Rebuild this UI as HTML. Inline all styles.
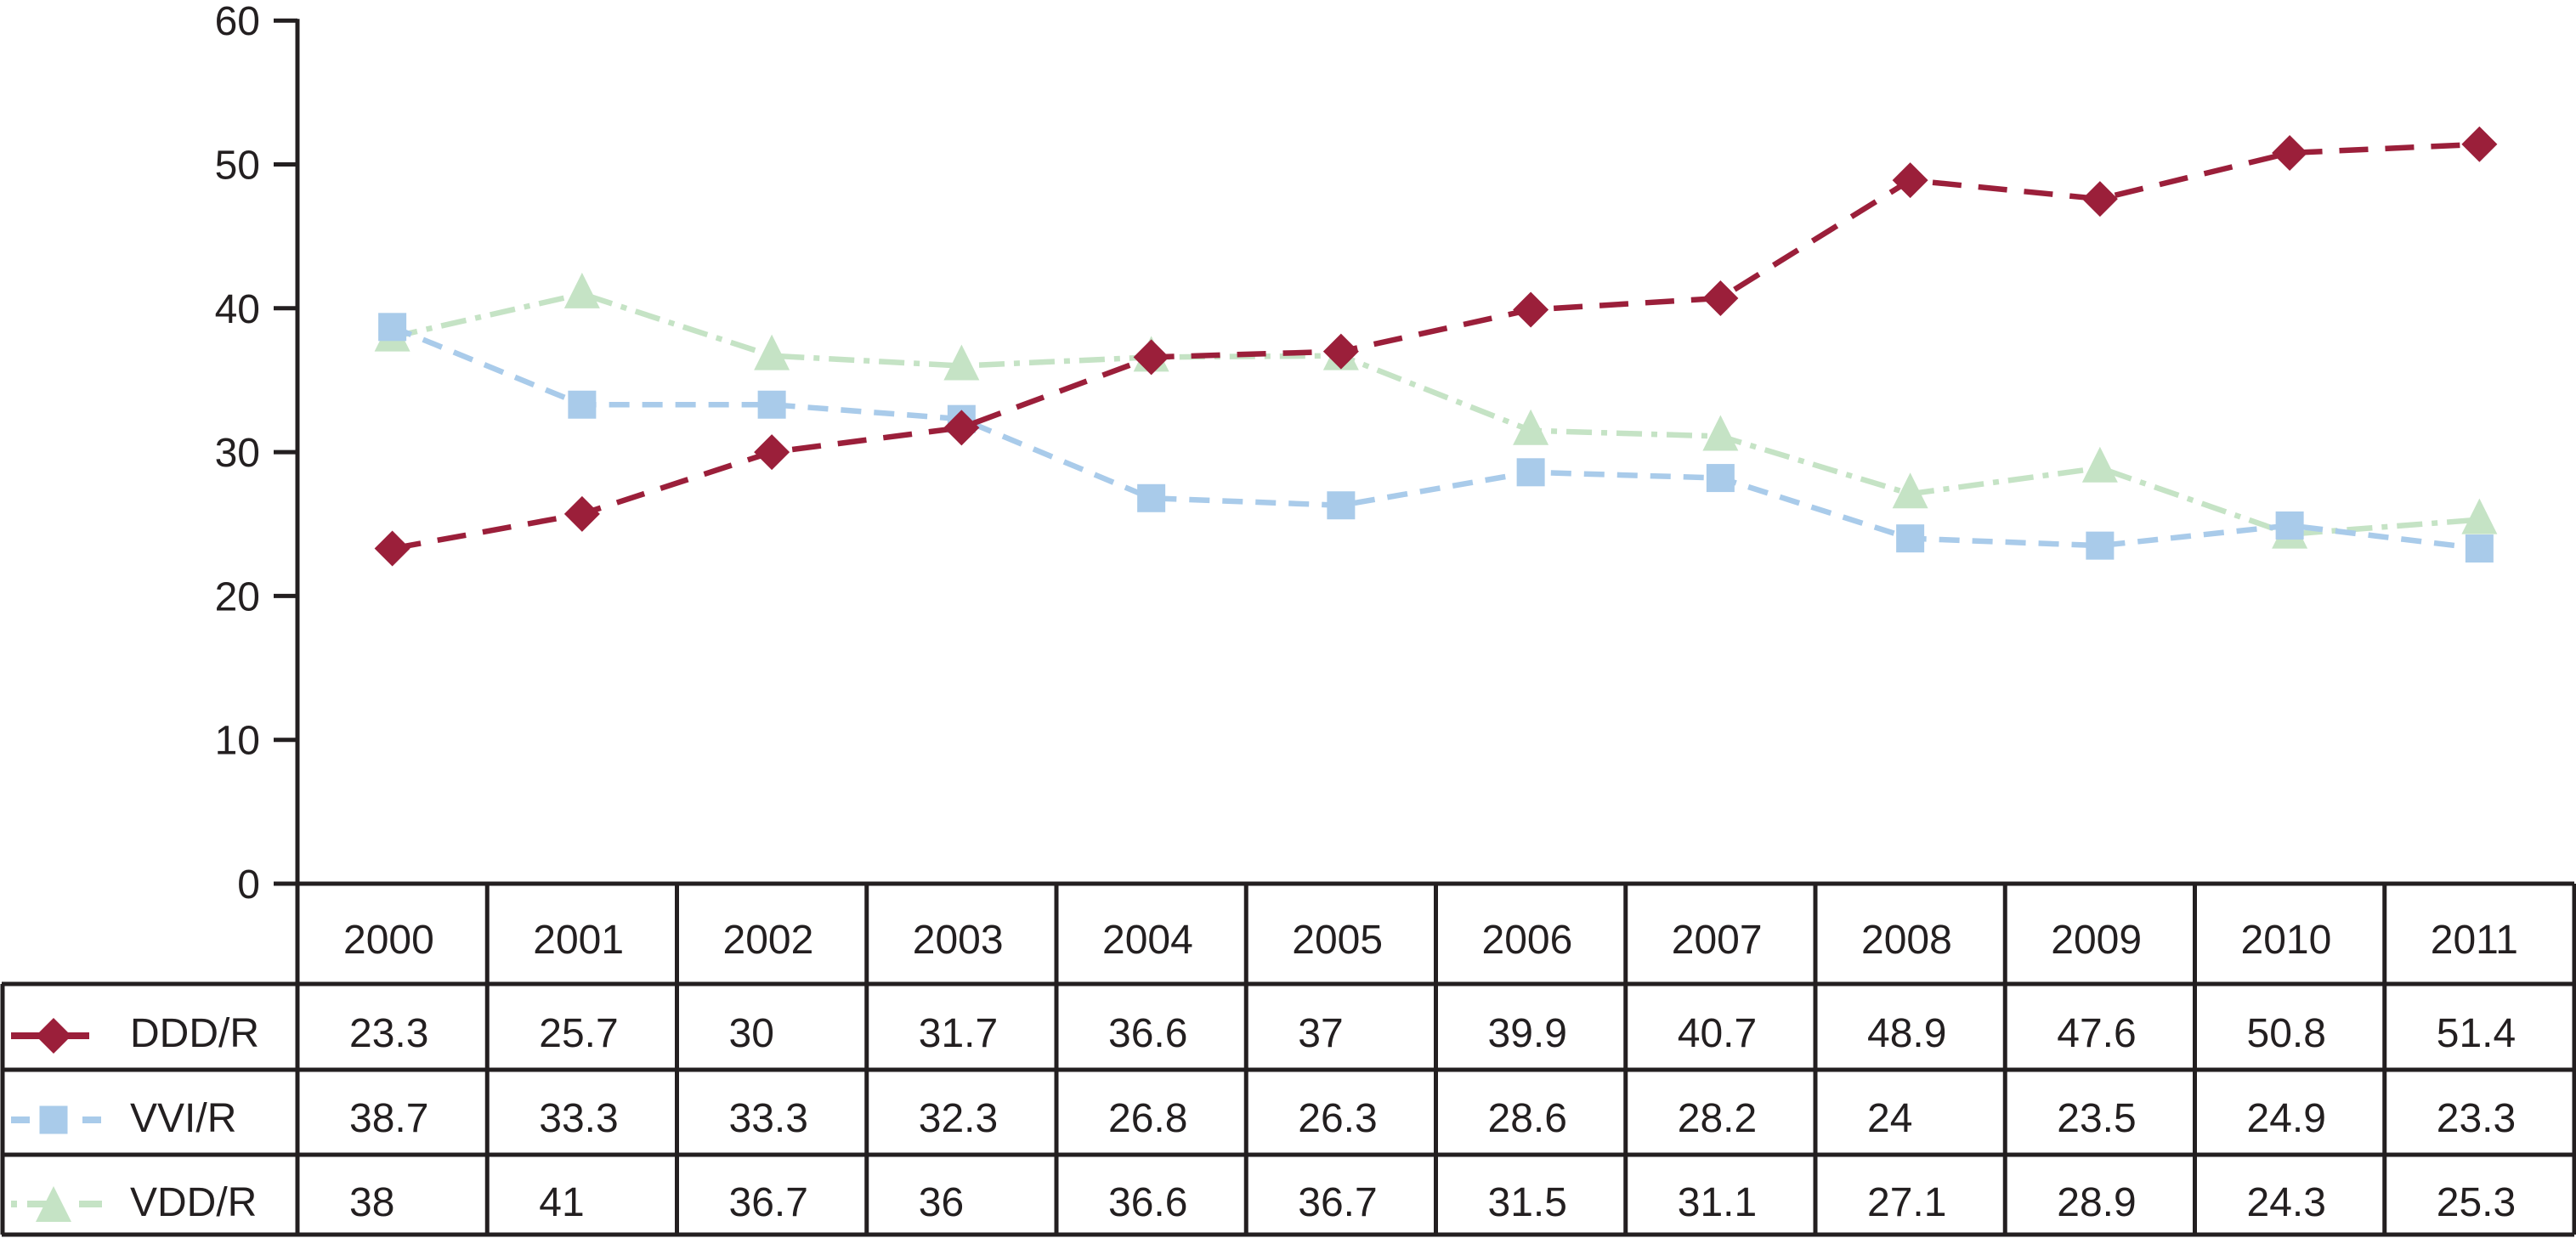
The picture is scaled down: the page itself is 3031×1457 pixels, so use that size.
<!DOCTYPE html>
<html><head><meta charset="utf-8"><style>
html,body{margin:0;padding:0;background:#fff}
svg{display:block}
text{font-family:"Liberation Sans",Arial,sans-serif;fill:#231f20}
</style></head><body>
<svg width="3031" height="1457" viewBox="0 0 3031 1457" xmlns="http://www.w3.org/2000/svg">
<g id="axis"></g>
<g id="series"></g>
<g id="table"></g>
</svg>
<script>
const years = ["2000","2001","2002","2003","2004","2005","2006","2007","2008","2009","2010","2011"];
const dddValues = [23.3,25.7,30,31.7,36.6,37,39.9,40.7,48.9,47.6,50.8,51.4];
const vviValues = [38.7,33.3,33.3,32.3,26.8,26.3,28.6,28.2,24,23.5,24.9,23.3];
const vddValues = [38,41,36.7,36,36.6,36.7,31.5,31.1,27.1,28.9,24.3,25.3];
const yTicks = [0,10,20,30,40,50,60];
const seriesNames = ["DDD/R","VVI/R","VDD/R"];

const NS="http://www.w3.org/2000/svg";
const X0=350, COLW=223.25, Y0=1040, PXU=16.93;
const xPos=i=>X0+COLW*(i+0.5);
const yPos=v=>Y0-v*PXU;
function mk(tag,attrs,parent){const e=document.createElementNS(NS,tag);for(const k in attrs)e.setAttribute(k,attrs[k]);parent.appendChild(e);return e;}
const axis=document.getElementById('axis'), series=document.getElementById('series'), table=document.getElementById('table');

let ax=mk('line',{x1:X0,y1:yPos(60)-2,x2:X0,y2:Y0,stroke:'#231f20','stroke-width':5},axis);


yTicks.forEach(t=>{
  const y=yPos(t);
  const tk=mk('line',{x1:322,y1:y,x2:X0,y2:y,stroke:'#231f20','stroke-width':5},axis);
  
  
  const lb=mk('text',{x:306,y:y+17,'text-anchor':'end','font-size':48},axis);
  lb.textContent=t;
  
  
});

const styles=[
 {color:'#9b1f3a',dash:'34 20',marker:'diamond'},
 {color:'#a9cbea',dash:'24 15',marker:'square'},
 {color:'#c5e3c5',dash:'30 11 7 11',marker:'triangle'}
];
function marker(type,cx,cy,color,parent){
  let e;
  if(type==='diamond') e=mk('polygon',{points:`${cx},${cy-21} ${cx+21},${cy} ${cx},${cy+21} ${cx-21},${cy}`,fill:color},parent);
  else if(type==='square') e=mk('rect',{x:cx-16.5,y:cy-16.5,width:33,height:33,fill:color},parent);
  else e=mk('polygon',{points:`${cx},${cy-25} ${cx+21},${cy+17} ${cx-21},${cy+17}`,fill:color},parent);
  return e;
}
const allData=[dddValues,vviValues,vddValues];
[2,1,0].forEach(s=>{
  const d=allData[s], st=styles[s];
  const g=mk('g',{},series);
  
  
  const pts=d.map((v,i)=>xPos(i)+','+yPos(v)).join(' ');
  const pl=mk('polyline',{points:pts,fill:'none',stroke:st.color,'stroke-width':6.5,'stroke-dasharray':st.dash},g);
  
  
  d.forEach((v,i)=>{
    const m=marker(st.marker,xPos(i),yPos(v),st.color,g);
    
    
  });
});

const RIGHT=X0+COLW*12;
const rowY=[1040,1158,1259,1359,1453];
const hl=(x1,y,x2)=>{const l=mk('line',{x1:x1,y1:y,x2:x2,y2:y,stroke:'#231f20','stroke-width':5},table);};
hl(X0,rowY[0],RIGHT);
for(let r=1;r<5;r++) hl(2,rowY[r],RIGHT);
const vl=(x,y1,y2)=>{const l=mk('line',{x1:x,y1:y1,x2:x,y2:y2,stroke:'#231f20','stroke-width':5},table);};
vl(3,rowY[1],rowY[4]);
for(let c=0;c<=12;c++) vl(X0+COLW*c,rowY[0],rowY[4]);
years.forEach((yr,i)=>{
  const t=mk('text',{x:X0+COLW*i+54,y:1122,'font-size':48},table);
  t.textContent=yr;
  
  
});
const baselines=[1232,1332,1431];
const legendSegs=[[[13,105]],[[13,35],[97,119]],[[13,20],[32,57],[93,120]]];
const legendY=[1219,1318,1417];
allData.forEach((d,s)=>{
  const st=styles[s], by=baselines[s], cy=legendY[s];
  const lg=mk('g',{},table);
  
  
  legendSegs[s].forEach(sg=>mk('line',{x1:sg[0],y1:cy,x2:sg[1],y2:cy,stroke:st.color,'stroke-width':8},lg));
  if(s===2) marker(st.marker,63,cy+4,st.color,lg); else marker(st.marker,63,cy,st.color,lg);
  const nm=mk('text',{x:153,y:by,'font-size':48},lg);
  nm.textContent=seriesNames[s];
  d.forEach((v,i)=>{
    const t=mk('text',{x:X0+COLW*i+61,y:by,'font-size':48},table);
    t.textContent=v;
    
    
  });
});
</script>
</body></html>
